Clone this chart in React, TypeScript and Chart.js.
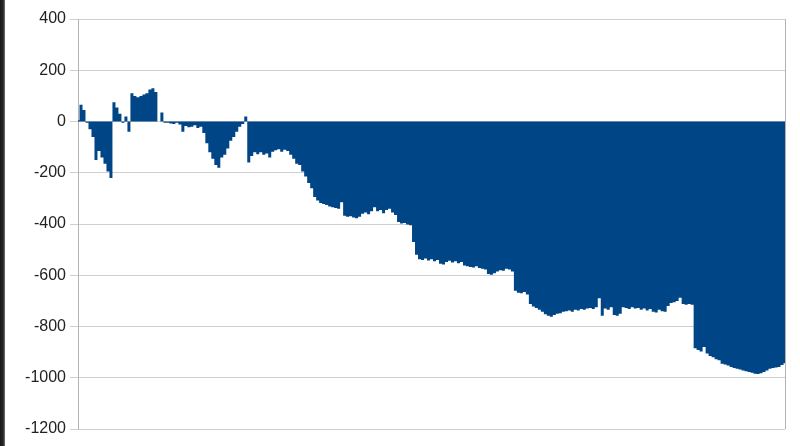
import React, { useEffect, useRef } from "react";
import { Chart, registerables } from "chart.js";

Chart.register(...registerables);

// Cumulative values, one per sample
const values: number[] = [
  5, 65, 45, -5, -30, -60, -150, -115, -140, -165,
  -195, -220, 75, 55, 30, -5, 20, -40, 110, 100,
  95, 100, 105, 110, 125, 130, 115, 0, 35, -5,
  -5, -8, -10, -5, -12, -40, -18, -22, -20, -15,
  -25, -20, -45, -85, -120, -145, -170, -180, -140, -130,
  -105, -75, -60, -40, -20, -10, 20, -160, -135, -120,
  -128, -120, -130, -125, -140, -118, -112, -108, -118, -110,
  -115, -130, -145, -165, -170, -195, -215, -240, -260, -295,
  -308, -318, -322, -326, -332, -335, -338, -340, -315, -368,
  -372, -370, -375, -378, -372, -360, -355, -362, -350, -335,
  -350, -345, -358, -345, -340, -355, -365, -392, -398, -396,
  -402, -405, -470, -520, -538, -540, -535, -542, -538, -545,
  -540, -555, -558, -548, -543, -550, -545, -553, -548, -562,
  -565, -568, -570, -565, -572, -575, -578, -595, -598, -592,
  -585, -580, -582, -575, -578, -585, -660, -668, -670, -665,
  -675, -712, -722, -728, -735, -742, -752, -758, -762, -755,
  -750, -748, -742, -740, -738, -742, -735, -738, -732, -735,
  -730, -728, -732, -725, -690, -758, -730, -735, -725, -755,
  -758, -750, -725, -728, -732, -725, -730, -728, -735, -730,
  -738, -732, -742, -745, -735, -740, -742, -720, -708, -705,
  -700, -688, -712, -715, -712, -715, -885, -892, -898, -880,
  -905, -915, -920, -928, -932, -945, -948, -952, -958, -962,
  -965, -968, -972, -975, -978, -980, -984, -985, -982, -978,
  -972, -965, -962, -960, -958, -950, -943,
];

// Sample index labels (x axis is not shown in the reference)
const categories: string[] = values.map((_, i) => String(i + 1));

const yMin = -1200;
const yMax = 400;
const yStep = 200;

const seriesColor = "#004586";

const rightBorder = {
  id: "rightBorder",
  afterDraw(chart: any) {
    const { ctx, chartArea } = chart;
    ctx.save();
    ctx.strokeStyle = "#b3b3b3";
    ctx.lineWidth = 1;
    ctx.beginPath();
    const x = Math.round(chartArea.right) + 0.5;
    ctx.moveTo(x, chartArea.top);
    ctx.lineTo(x, chartArea.bottom);
    ctx.stroke();
    ctx.restore();
  },
};

export default function App() {
  const ref = useRef<HTMLCanvasElement>(null);

  useEffect(() => {
    if (!ref.current) return;
    const chart = new Chart(ref.current, {
      type: "line",
      data: {
        labels: categories,
        datasets: [
          {
            data: values,
            backgroundColor: seriesColor,
            borderColor: seriesColor,
            borderWidth: 0,
            pointRadius: 0,
            fill: "origin",
            stepped: "middle",
          },
        ],
      },
      options: {
        animation: false,
        responsive: false,
        events: [],
        layout: { padding: { top: 19, right: 15, bottom: 17, left: 0 } },
        plugins: {
          legend: { display: false },
          tooltip: { enabled: false },
        },
        scales: {
          x: { display: false },
          y: {
            min: yMin,
            max: yMax,
            afterFit: (scale: any) => {
              scale.width = 78;
            },
            ticks: {
              stepSize: yStep,
              padding: 4,
              color: "#222222",
              font: { family: "'Liberation Sans', Arial, sans-serif", size: 16 },
              callback: (v: any) => String(v),
            },
            grid: {
              color: "#cfcfcf",
              tickLength: 8,
            },
            border: { color: "#b3b3b3" },
          },
        },
      },
      plugins: [rightBorder],
    });
    return () => chart.destroy();
  }, []);

  return (
    <div style={{ position: "absolute", left: 0, top: 0, width: 800, height: 446, background: "#ffffff" }}>
      <canvas ref={ref} width={800} height={446} style={{ display: "block" }} />
      <div
        style={{
          position: "absolute",
          left: 0,
          top: 0,
          width: 5,
          height: 446,
          background: "linear-gradient(to right, #1a1a1a 0px, #222 3px, #777 5px)",
        }}
      />
    </div>
  );
}
